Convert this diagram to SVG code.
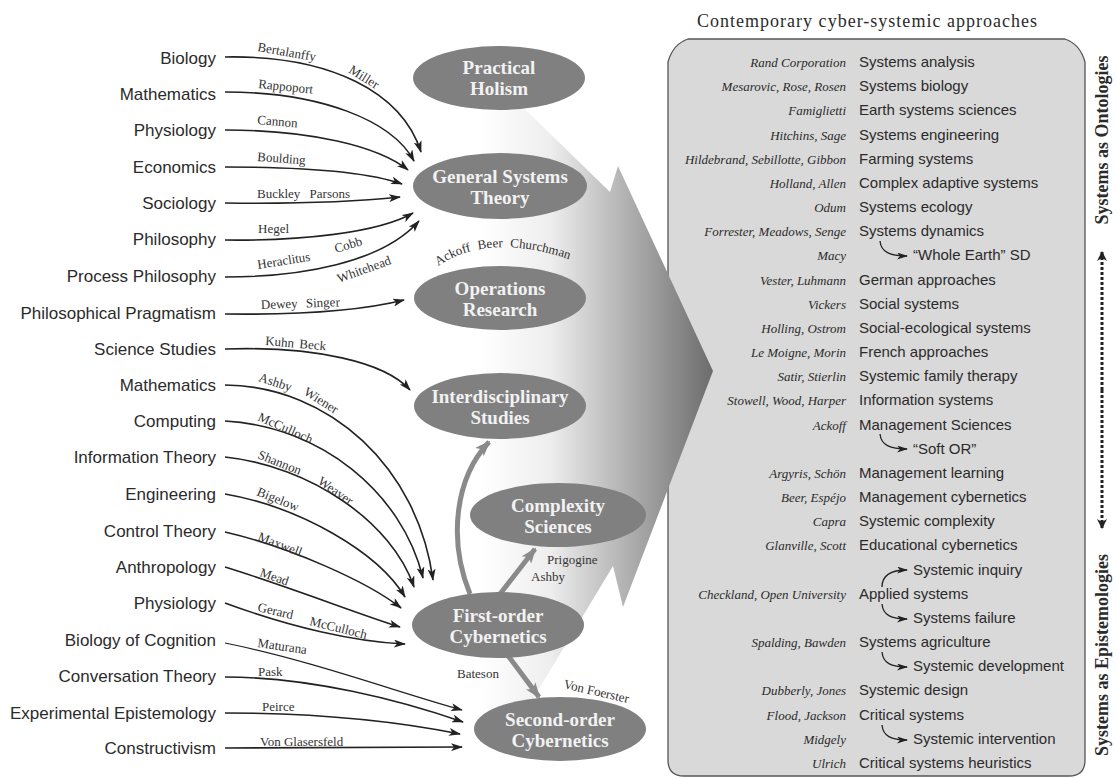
<svg xmlns="http://www.w3.org/2000/svg" width="1117" height="779" viewBox="0 0 1117 779">
<style>
.src{font-family:"Liberation Sans",Arial,sans-serif;font-size:17px;fill:#2b2b2b;text-anchor:end}
.auth{font-family:"Liberation Serif","Times New Roman",serif;font-size:13px;fill:#333}
.ell{fill:#808080}
.et{font-family:"Liberation Serif","Times New Roman",serif;font-size:19px;font-weight:bold;fill:#f2f2f2;text-anchor:middle}
.con{fill:none;stroke:#222;stroke-width:1.6;marker-end:url(#ah)}
.thin{stroke-width:1.2}
.thick{fill:none;stroke:#8a8a8a;stroke-width:5;marker-end:url(#ahg)}
.nm{font-family:"Liberation Serif","Times New Roman",serif;font-style:italic;font-size:13px;fill:#2b2b2b;text-anchor:end}
.tp{font-family:"Liberation Sans",Arial,sans-serif;font-size:15px;fill:#2b2b2b}
.sa{fill:none;stroke:#222;stroke-width:1.3;marker-end:url(#ahs)}
.side{font-family:"Liberation Serif","Times New Roman",serif;font-size:18px;font-weight:bold;fill:#2b2b2b;text-anchor:middle}
</style>
<defs>
<linearGradient id="fade" gradientUnits="userSpaceOnUse" x1="480" y1="0" x2="713" y2="0">
<stop offset="0" stop-color="#ffffff"/>
<stop offset="0.3" stop-color="#eeeeee"/>
<stop offset="1" stop-color="#6c6c6c"/>
</linearGradient>
<marker id="ah" viewBox="0 0 12 8" refX="11" refY="4" markerWidth="12" markerHeight="8" markerUnits="userSpaceOnUse" orient="auto"><path d="M0,0 L12,4 L0,8 L3,4 z" fill="#222"/></marker>
<marker id="ahg" viewBox="0 0 16 12" refX="14" refY="6" markerWidth="16" markerHeight="12" markerUnits="userSpaceOnUse" orient="auto"><path d="M0,0 L16,6 L0,12 L4,6 z" fill="#8a8a8a"/></marker>
<marker id="ahs" viewBox="0 0 11 7" refX="10" refY="3.5" markerWidth="11" markerHeight="7" markerUnits="userSpaceOnUse" orient="auto"><path d="M0,0 L11,3.5 L0,7 L3,3.5 z" fill="#222"/></marker>
<marker id="ahd" viewBox="0 0 10 10" refX="9" refY="5" markerWidth="10" markerHeight="10" markerUnits="userSpaceOnUse" orient="auto"><path d="M0,0 L10,5 L0,10 L3,5 z" fill="#222"/></marker>
</defs>

<rect x="0" y="0" width="1117" height="779" fill="#ffffff"/>

<!-- right box -->
<g id="approaches">
<text x="867" y="27" font-family="'Liberation Serif','Times New Roman',serif" font-size="18" fill="#2b2b2b" text-anchor="middle" textLength="340">Contemporary cyber-systemic approaches</text>
<path d="M688,39 L1065,39 Q1080,44 1085,62 L1085,760 Q1085,776 1069,776 L684,776 Q668,776 668,760 L668,62 Q673,44 688,39 Z" fill="#d9d9d9" stroke="#555" stroke-width="1.3"/>
<text class="nm" x="846" y="67">Rand Corporation</text><text class="tp" x="859" y="67">Systems analysis</text>
<text class="nm" x="846" y="91">Mesarovic, Rose, Rosen</text><text class="tp" x="859" y="91">Systems biology</text>
<text class="nm" x="846" y="115">Famiglietti</text><text class="tp" x="859" y="115">Earth systems sciences</text>
<text class="nm" x="846" y="140">Hitchins, Sage</text><text class="tp" x="859" y="140">Systems engineering</text>
<text class="nm" x="846" y="164">Hildebrand, Sebillotte, Gibbon</text><text class="tp" x="859" y="164">Farming systems</text>
<text class="nm" x="846" y="188">Holland, Allen</text><text class="tp" x="859" y="188">Complex adaptive systems</text>
<text class="nm" x="846" y="212">Odum</text><text class="tp" x="859" y="212">Systems ecology</text>
<text class="nm" x="846" y="236">Forrester, Meadows, Senge</text><text class="tp" x="859" y="236">Systems dynamics</text>
<text class="nm" x="846" y="260">Macy</text><text class="tp" x="913" y="260">“Whole Earth” SD</text>
<text class="nm" x="846" y="285">Vester, Luhmann</text><text class="tp" x="859" y="285">German approaches</text>
<text class="nm" x="846" y="309">Vickers</text><text class="tp" x="859" y="309">Social systems</text>
<text class="nm" x="846" y="333">Holling, Ostrom</text><text class="tp" x="859" y="333">Social-ecological systems</text>
<text class="nm" x="846" y="357">Le Moigne, Morin</text><text class="tp" x="859" y="357">French approaches</text>
<text class="nm" x="846" y="381">Satir, Stierlin</text><text class="tp" x="859" y="381">Systemic family therapy</text>
<text class="nm" x="846" y="405">Stowell, Wood, Harper</text><text class="tp" x="859" y="405">Information systems</text>
<text class="nm" x="846" y="430">Ackoff</text><text class="tp" x="859" y="430">Management Sciences</text>
<text class="tp" x="913" y="454">“Soft OR”</text>
<text class="nm" x="846" y="478">Argyris, Schön</text><text class="tp" x="859" y="478">Management learning</text>
<text class="nm" x="846" y="502">Beer, Espéjo</text><text class="tp" x="859" y="502">Management cybernetics</text>
<text class="nm" x="846" y="526">Capra</text><text class="tp" x="859" y="526">Systemic complexity</text>
<text class="nm" x="846" y="550">Glanville, Scott</text><text class="tp" x="859" y="550">Educational cybernetics</text>
<text class="tp" x="913" y="575">Systemic inquiry</text>
<text class="nm" x="846" y="599">Checkland, Open University</text><text class="tp" x="859" y="599">Applied systems</text>
<text class="tp" x="913" y="623">Systems failure</text>
<text class="nm" x="846" y="647">Spalding, Bawden</text><text class="tp" x="859" y="647">Systems agriculture</text>
<text class="tp" x="913" y="671">Systemic development</text>
<text class="nm" x="846" y="695">Dubberly, Jones</text><text class="tp" x="859" y="695">Systemic design</text>
<text class="nm" x="846" y="720">Flood, Jackson</text><text class="tp" x="859" y="720">Critical systems</text>
<text class="nm" x="846" y="744">Midgely</text><text class="tp" x="913" y="744">Systemic intervention</text>
<text class="nm" x="846" y="768">Ulrich</text><text class="tp" x="859" y="768">Critical systems heuristics</text>
<path class="sa" d="M880,241 C881,252 890,256 907,256"/>
<path class="sa" d="M880,434 C881,445 890,449 907,449"/>
<path class="sa" d="M882,587 C882,576 890,570 907,570"/>
<path class="sa" d="M882,604 C883,615 891,619 907,619"/>
<path class="sa" d="M882,652 C883,663 891,667 907,667"/>
<path class="sa" d="M882,725 C883,736 891,740 907,740"/>
</g>

<!-- side axis -->
<g id="axis">
<text class="side" transform="translate(1108,140) rotate(-90)">Systems as Ontologies</text>
<text class="side" transform="translate(1108,655) rotate(-90)">Systems as Epistemologies</text>
<line x1="1102" y1="390" x2="1102" y2="252" stroke="#222" stroke-width="3" stroke-dasharray="3,2" marker-end="url(#ahd)"/>
<line x1="1102" y1="390" x2="1102" y2="528" stroke="#222" stroke-width="3" stroke-dasharray="3,2" marker-end="url(#ahd)"/>
</g>

<!-- big gradient arrow -->
<g id="flow-arrow">
<path d="M420,85 L500,85 L610,192 L618,166 L713,371 L623,607 L613,566 L525,712 L420,712 Z" fill="url(#fade)"/>
</g>

<!-- connectors -->
<g id="connectors">
<path class="con" d="M225,57 C330,55 402,92 421,152"/>
<path class="con" d="M225,92 C320,92 392,120 414,161"/>
<path class="con" d="M225,130 C310,130 378,146 408,170"/>
<path class="con" d="M225,167 C300,167 368,172 402,184"/>
<path class="con" d="M225,203 C300,204 362,201 400,197"/>
<path class="con" d="M225,240 C300,241 378,233 413,213"/>
<path class="con" d="M225,277 C300,277 382,263 419,221"/>
<path class="con" d="M225,314 C300,315 360,311 404,300"/>
<path class="con" d="M225,349 C315,346 385,362 410,390"/>
<path class="con" d="M225,385 C330,386 418,468 433,580"/>
<path class="con" d="M225,421 C320,426 402,492 423,578"/>
<path class="con" d="M225,457 C310,466 392,522 414,587"/>
<path class="con" d="M225,494 C300,507 378,552 405,597"/>
<path class="con" d="M225,532 C290,547 368,582 401,608"/>
<path class="con" d="M225,567 C290,587 358,614 400,627"/>
<path class="con" d="M225,603 C290,627 355,642 405,644"/>
<path class="con thin" d="M225,643 C310,660 400,693 462,710"/>
<path class="con" d="M225,677 C310,677 400,700 463,722"/>
<path class="con" d="M225,713 C320,713 400,722 460,734"/>
<path class="con" d="M225,748 C320,748 400,748 462,747"/>
<path class="thick" d="M470,594 C448,540 455,478 489,442"/>
<path class="thick" d="M500,594 L535,549"/>
<path class="thick" d="M503,649 L539,697"/>
</g>

<!-- connector labels -->
<g id="connector-labels">
<text class="auth" transform="translate(257,51) rotate(10)">Bertalanffy</text>
<text class="auth" transform="translate(348,72) rotate(32)">Miller</text>
<text class="auth" transform="translate(258,88) rotate(6)">Rappoport</text>
<text class="auth" transform="translate(257,124) rotate(5)">Cannon</text>
<text class="auth" transform="translate(257,161) rotate(4)">Boulding</text>
<text class="auth" x="257" y="198" word-spacing="6">Buckley Parsons</text>
<text class="auth" x="258" y="233">Hegel</text>
<text class="auth" transform="translate(258,269) rotate(-9)">Heraclitus</text>
<text class="auth" transform="translate(336,253) rotate(-17)">Cobb</text>
<text class="auth" transform="translate(339,283) rotate(-20)">Whitehead</text>
<text class="auth" transform="translate(261,309) rotate(-2)" word-spacing="5">Dewey Singer</text>
<text class="auth" transform="translate(265,345) rotate(5)" word-spacing="2">Kuhn Beck</text>
<text class="auth" transform="translate(258,381) rotate(18)">Ashby</text>
<text class="auth" transform="translate(303,394) rotate(32)">Wiener</text>
<text class="auth" transform="translate(257,420) rotate(24)">McCulloch</text>
<text class="auth" transform="translate(257,458) rotate(22)">Shannon</text>
<text class="auth" transform="translate(317,483) rotate(35)">Weaver</text>
<text class="auth" transform="translate(256,495) rotate(22)">Bigelow</text>
<text class="auth" transform="translate(257,540) rotate(21)">Maxwell</text>
<text class="auth" transform="translate(259,576) rotate(19)">Mead</text>
<text class="auth" transform="translate(257,611) rotate(13)">Gerard</text>
<text class="auth" transform="translate(309,625) rotate(14)">McCulloch</text>
<text class="auth" transform="translate(257,647) rotate(8)">Maturana</text>
<text class="auth" x="258" y="676">Pask</text>
<text class="auth" x="262" y="711">Peirce</text>
<text class="auth" x="260" y="746">Von Glasersfeld</text>
<path id="arcOR" d="M438,266 Q492,230 580,263" fill="none"/>
<text class="auth" word-spacing="4"><textPath href="#arcOR">Ackoff Beer Churchman</textPath></text>
<text class="auth" x="547" y="564">Prigogine</text>
<text class="auth" x="531" y="581">Ashby</text>
<text class="auth" x="457" y="678">Bateson</text>
<text class="auth" transform="translate(563,688) rotate(13)">Von Foerster</text>
</g>

<!-- ellipse nodes -->
<g id="practical-holism"><ellipse class="ell" cx="499" cy="78" rx="86" ry="32"/><text class="et" x="499" y="74">Practical</text><text class="et" x="499" y="95">Holism</text></g>
<g id="general-systems-theory"><ellipse class="ell" cx="500" cy="186" rx="87" ry="33"/><text class="et" x="500" y="183">General Systems</text><text class="et" x="500" y="204">Theory</text></g>
<g id="operations-research"><ellipse class="ell" cx="500" cy="298" rx="86" ry="32"/><text class="et" x="500" y="295">Operations</text><text class="et" x="500" y="316">Research</text></g>
<g id="interdisciplinary-studies"><ellipse class="ell" cx="500" cy="406" rx="86" ry="33"/><text class="et" x="500" y="403">Interdisciplinary</text><text class="et" x="500" y="424">Studies</text></g>
<g id="complexity-sciences"><ellipse class="ell" cx="558" cy="515" rx="88" ry="32"/><text class="et" x="558" y="512">Complexity</text><text class="et" x="558" y="533">Sciences</text></g>
<g id="first-order-cybernetics"><ellipse class="ell" cx="498" cy="625" rx="86" ry="33"/><text class="et" x="498" y="622">First-order</text><text class="et" x="498" y="643">Cybernetics</text></g>
<g id="second-order-cybernetics"><ellipse class="ell" cx="560" cy="729" rx="86" ry="32"/><text class="et" x="560" y="726">Second-order</text><text class="et" x="560" y="747">Cybernetics</text></g>

<!-- source discipline nodes -->
<g id="src-biology"><text class="src" x="216" y="64">Biology</text></g>
<g id="src-mathematics-1"><text class="src" x="216" y="100">Mathematics</text></g>
<g id="src-physiology-1"><text class="src" x="216" y="136">Physiology</text></g>
<g id="src-economics"><text class="src" x="216" y="173">Economics</text></g>
<g id="src-sociology"><text class="src" x="216" y="209">Sociology</text></g>
<g id="src-philosophy"><text class="src" x="216" y="245">Philosophy</text></g>
<g id="src-process-philosophy"><text class="src" x="216" y="282">Process Philosophy</text></g>
<g id="src-philosophical-pragmatism"><text class="src" x="216" y="319">Philosophical Pragmatism</text></g>
<g id="src-science-studies"><text class="src" x="216" y="355">Science Studies</text></g>
<g id="src-mathematics-2"><text class="src" x="216" y="391">Mathematics</text></g>
<g id="src-computing"><text class="src" x="216" y="427">Computing</text></g>
<g id="src-information-theory"><text class="src" x="216" y="463">Information Theory</text></g>
<g id="src-engineering"><text class="src" x="216" y="500">Engineering</text></g>
<g id="src-control-theory"><text class="src" x="216" y="537">Control Theory</text></g>
<g id="src-anthropology"><text class="src" x="216" y="573">Anthropology</text></g>
<g id="src-physiology-2"><text class="src" x="216" y="609">Physiology</text></g>
<g id="src-biology-of-cognition"><text class="src" x="216" y="646">Biology of Cognition</text></g>
<g id="src-conversation-theory"><text class="src" x="216" y="682">Conversation Theory</text></g>
<g id="src-experimental-epistemology"><text class="src" x="216" y="719">Experimental Epistemology</text></g>
<g id="src-constructivism"><text class="src" x="216" y="754">Constructivism</text></g>
</svg>
